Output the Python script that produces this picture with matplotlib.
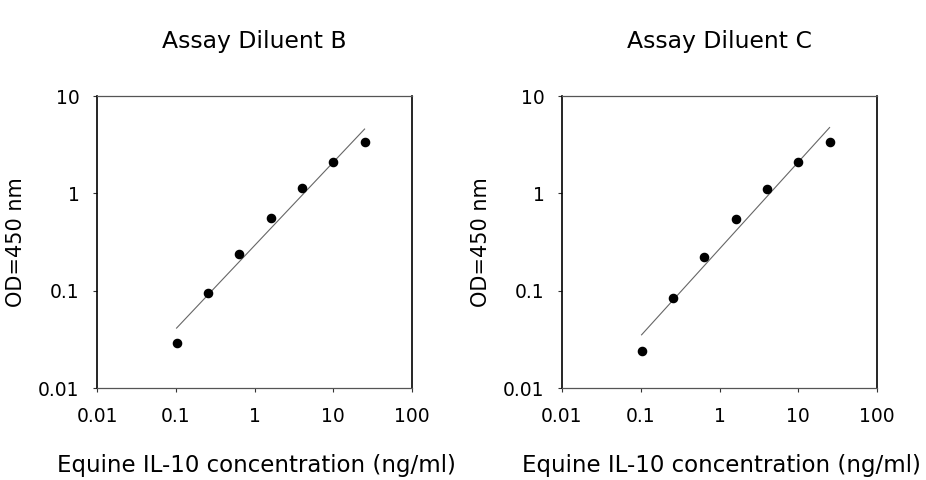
import numpy as np
import matplotlib
matplotlib.use('Agg')
import matplotlib.pyplot as plt
from matplotlib.ticker import LogLocator, FuncFormatter, NullLocator

# Standard concentrations (ng/ml), 2.5-fold serial dilution
conc = [0.1024, 0.256, 0.64, 1.6, 4.0, 10.0, 25.0]

# OD450 readings for each diluent
od_B = [0.029, 0.095, 0.239, 0.561, 1.13, 2.10, 3.33]
od_C = [0.0239, 0.084, 0.220, 0.548, 1.11, 2.12, 3.33]

titles = ["Assay Diluent B", "Assay Diluent C"]
xlabel = "Equine IL-10 concentration (ng/ml)"
ylabel = "OD=450 nm"

W, H = 926, 480


def loglog_fit(x, y):
    """ Straight-line fit in log-log space, returns the line end points
    """
    lx, ly = np.log10(x), np.log10(y)
    slope, icpt = np.polyfit(lx, ly, 1)
    xs = np.array([x[0], x[-1]])
    return xs, 10**(icpt + slope*np.log10(xs))


def draw_panel(ax, x, y, title):
    ax.set_xscale('log')
    ax.set_yscale('log')
    ax.set_xlim(0.01, 100)
    ax.set_ylim(0.01, 10)

    xs, ys = loglog_fit(x, y)
    ax.plot(xs, ys, '-', color='#666666', lw=0.8, zorder=2)
    ax.plot(x, y, 'o', color='black', ms=5.9, mec='black', zorder=3)

    fmt = FuncFormatter(lambda v, p: '{:g}'.format(v))
    for axis in (ax.xaxis, ax.yaxis):
        axis.set_major_locator(LogLocator(base=10, numticks=10))
        axis.set_minor_locator(NullLocator())
        axis.set_major_formatter(fmt)
    ax.tick_params(direction='out', length=3, width=0.8, labelsize=13.5,
                   color='#333333')
    ax.tick_params(axis='x', pad=11)
    ax.tick_params(axis='y', pad=9.5)

    for side in ('top', 'bottom'):
        ax.spines[side].set_color('#555555')
        ax.spines[side].set_linewidth(0.9)
    for side in ('left', 'right'):
        ax.spines[side].set_color('black')
        ax.spines[side].set_linewidth(1.2)

    cx = ax.get_position().x0 + ax.get_position().width/2
    ax.figure.text(cx, 1 - 48/H, title, ha='center', va='baseline',
                   fontsize=16.9)
    ax.figure.text(cx + 2/W, 1 - 472/H, xlabel, ha='center', va='baseline',
                   fontsize=16.5)
    x0 = ax.get_position().x0
    ax.figure.text(x0 - 81/W, 1 - 242/H, ylabel, ha='center', va='center',
                   rotation=90, fontsize=15)


fig = plt.figure(figsize=(W/100, H/100), dpi=100)
ax_b = fig.add_axes([97/W, 1 - 388/H, 315/W, 292/H])
ax_c = fig.add_axes([562/W, 1 - 388/H, 315/W, 292/H])

draw_panel(ax_b, conc, od_B, titles[0])
draw_panel(ax_c, conc, od_C, titles[1])

fig.savefig('out.png', dpi=100)
